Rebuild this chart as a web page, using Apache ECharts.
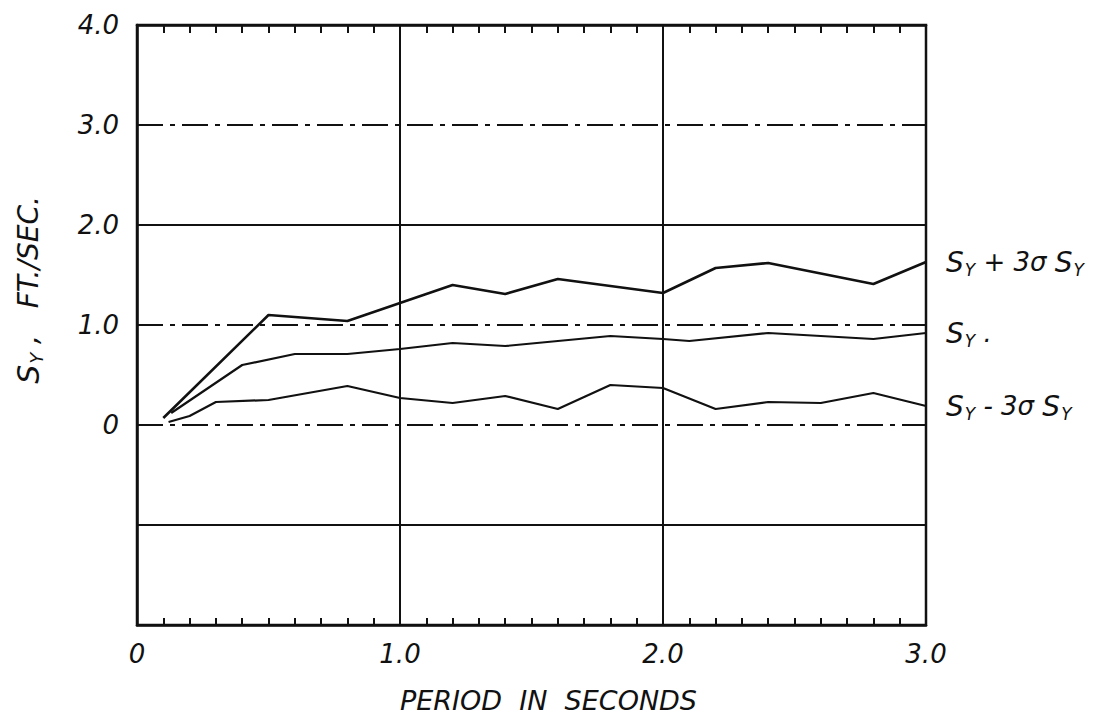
<!DOCTYPE html>
<html>
<head>
<meta charset="utf-8">
<script src="https://cdn.jsdelivr.net/npm/echarts@6/dist/echarts.min.js"></script>
<style>
html,body{margin:0;padding:0;background:#fff;}
#chart{width:1120px;height:721px;}
</style>
</head>
<body>
<div id="chart"></div>
<script>
// ---- data ----
const upperPeriod = [0.1, 0.5, 0.8, 1.2, 1.4, 1.6, 2.0, 2.2, 2.4, 2.8, 3.0];
const upperValues = [0.07, 1.10, 1.04, 1.40, 1.31, 1.46, 1.32, 1.57, 1.62, 1.41, 1.63];

const meanPeriod = [0.13, 0.4, 0.6, 0.8, 1.0, 1.2, 1.4, 1.8, 2.0, 2.1, 2.4, 2.8, 3.0];
const meanValues = [0.12, 0.60, 0.71, 0.71, 0.76, 0.82, 0.79, 0.89, 0.86, 0.84, 0.92, 0.86, 0.92];

const lowerPeriod = [0.12, 0.2, 0.3, 0.5, 0.8, 1.0, 1.2, 1.4, 1.6, 1.8, 2.0, 2.2, 2.4, 2.6, 2.8, 3.0];
const lowerValues = [0.03, 0.09, 0.23, 0.25, 0.39, 0.27, 0.22, 0.29, 0.16, 0.40, 0.37, 0.16, 0.23, 0.22, 0.32, 0.19];

const xTickLabels = ['0', '1.0', '2.0', '3.0'];
const yTickLabels = ['0', '1.0', '2.0', '3.0', '4.0'];
const dashDotLevels = [3, 1, 0];
const solidLevels = [2, -1];

const seriesLabels = [
  '{s|S}{sub|Y}{t| + 3}{g|σ}{t| }{s|S}{sub|Y}',
  '{s|S}{sub|Y}{t| .}',
  '{s|S}{sub|Y}{t| - 3}{g|σ}{t| }{s|S}{sub|Y}'
];

// ---- chart ----
const ink = '#111';
const fontFam = '"DejaVu Sans", "Liberation Sans", sans-serif';
const rich = {
  s: {fontSize: 28, fontStyle: 'italic', color: ink, fontFamily: fontFam},
  sub: {fontSize: 17, fontStyle: 'italic', color: ink, fontFamily: fontFam, padding: [15, 0, 0, 1]},
  t: {fontSize: 26, fontStyle: 'italic', color: ink, fontFamily: fontFam},
  g: {fontSize: 26, fontStyle: 'italic', color: ink, fontFamily: fontFam}
};
const richName = {
  s: {fontSize: 30, fontStyle: 'italic', color: ink, fontFamily: fontFam},
  sub: {fontSize: 18, fontStyle: 'italic', color: ink, fontFamily: fontFam, padding: [15, 0, 0, 1]},
  t: {fontSize: 28, fontStyle: 'italic', color: ink, fontFamily: fontFam}
};

function pairs(xs, ys) { return xs.map((x, i) => [x, ys[i]]); }
function fmtX(v) {
  const i = Math.round(v);
  return Math.abs(v - i) < 1e-6 ? xTickLabels[i] : '';
}
function fmtY(v) {
  const i = Math.round(v);
  return (i >= 0 && i < yTickLabels.length) ? yTickLabels[i] : '';
}

const gridLines = [];
dashDotLevels.forEach(v => gridLines.push({yAxis: v, lineStyle: {type: [26, 7, 5, 7], width: 2, color: ink}}));
solidLevels.forEach(v => gridLines.push({yAxis: v, lineStyle: {type: 'solid', width: 2, color: ink}}));

function lineSeries(name, xs, ys, idx, width) {
  return {
    name: name, type: 'line', data: pairs(xs, ys), xAxisIndex: 0, yAxisIndex: 0,
    symbol: 'none', smooth: false, z: 5,
    lineStyle: {color: ink, width: width},
    endLabel: {show: true, distance: 20, formatter: seriesLabels[idx], rich: rich},
    labelLayout: {hideOverlap: false}
  };
}

const chart = echarts.init(document.getElementById('chart'), null, {renderer: 'svg'});
chart.setOption({
  backgroundColor: '#fff',
  animation: false,
  grid: {left: 137, right: 194, top: 25, bottom: 96, show: true, borderColor: ink, borderWidth: 2.5, containLabel: false},
  xAxis: [
    {
      type: 'value', position: 'bottom', min: 0, max: 3, interval: 1,
      name: 'PERIOD  IN  SECONDS', nameLocation: 'middle', nameGap: 62,
      nameTextStyle: {fontSize: 27, fontStyle: 'italic', color: ink, fontFamily: fontFam, padding: [0, 0, 0, 34]},
      axisLine: {show: true, onZero: false, lineStyle: {color: ink, width: 2.5}},
      axisTick: {show: true, inside: true, length: 7, lineStyle: {color: ink, width: 2}},
      minorTick: {show: true, splitNumber: 10, length: 7, lineStyle: {color: ink, width: 2}},
      axisLabel: {formatter: fmtX, fontSize: 26, fontStyle: 'italic', color: ink, fontFamily: fontFam, margin: 16},
      splitLine: {show: true, lineStyle: {color: ink, width: 2, type: 'solid'}}
    },
    {
      type: 'value', position: 'top', min: 0, max: 3, interval: 1,
      axisLine: {show: true, onZero: false, lineStyle: {color: ink, width: 2.5}},
      axisTick: {show: true, inside: true, length: 8, lineStyle: {color: ink, width: 2}},
      minorTick: {show: true, splitNumber: 10, length: 8, lineStyle: {color: ink, width: 2}},
      axisLabel: {show: false},
      splitLine: {show: false}
    }
  ],
  yAxis: [
    {
      type: 'value', min: -2, max: 4, interval: 1,
      name: '{s|S}{sub|Y}{t| ,   FT./SEC.}', nameLocation: 'middle', nameRotate: 90, nameGap: 92,
      nameTextStyle: {rich: richName, padding: [0, 0, 0, 70]},
      axisLine: {show: true, onZero: false, lineStyle: {color: ink, width: 2.5}},
      axisTick: {show: false},
      axisLabel: {formatter: fmtY, fontSize: 26, fontStyle: 'italic', color: ink, fontFamily: fontFam, margin: 18},
      splitLine: {show: false}
    }
  ],
  series: [
    Object.assign(lineSeries('Sy + 3σSy', upperPeriod, upperValues, 0, 2.6), {
      markLine: {silent: true, symbol: 'none', label: {show: false}, data: gridLines, z: 1}
    }),
    lineSeries('Sy', meanPeriod, meanValues, 1, 2.2),
    lineSeries('Sy - 3σSy', lowerPeriod, lowerValues, 2, 2.2)
  ]
});
</script>
</body>
</html>
